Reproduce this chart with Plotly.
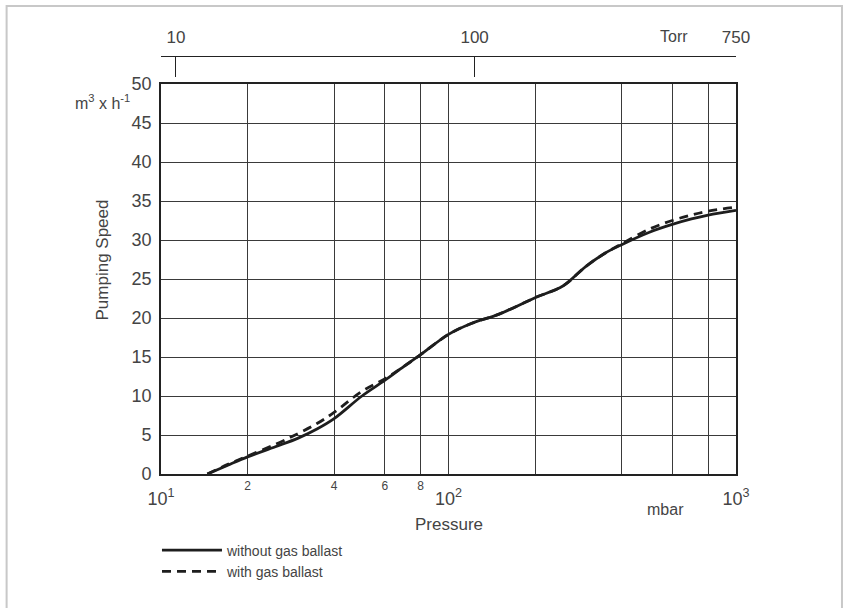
import plotly.graph_objects as go

# pressure in mbar, pumping speed in m3/h
pressure = [14.5, 17, 20, 25, 30, 35, 40, 50, 60, 70, 80, 100, 120, 150,
            200, 250, 300, 350, 400, 500, 600, 700, 800, 1000]
speed_without = [0, 1.1, 2.2, 3.5, 4.6, 5.8, 7.1, 10.0, 12.0, 13.8, 15.3, 17.9, 19.3, 20.5,
                 22.6, 24.1, 26.6, 28.3, 29.4, 31.0, 32.0, 32.7, 33.2, 33.8]
speed_with = [0, 1.2, 2.3, 3.8, 5.2, 6.5, 7.9, 10.6, 12.2, 13.8, 15.3, 17.9, 19.3, 20.5,
              22.6, 24.1, 26.6, 28.3, 29.5, 31.4, 32.5, 33.2, 33.7, 34.2]

grid_mbar = [20, 40, 60, 80, 100, 200, 400, 600, 800]
grid_text = ['2', '4', '6', '8', '', '', '', '', '']
decades = [10, 100, 1000]
decade_text = ['10<sup>1</sup>', '10<sup>2</sup>', '10<sup>3</sup>']
torr_ticks = [10, 100, 750]

txt = '#444444'
font = 'Liberation Sans'

fig = go.Figure()
fig.add_trace(go.Scatter(x=pressure, y=speed_without, mode='lines', name='without gas ballast',
                         line=dict(color='#1e1e1e', width=2.8, shape='spline')))
fig.add_trace(go.Scatter(x=pressure, y=speed_with, mode='lines', name='with gas ballast',
                         line=dict(color='#1e1e1e', width=2.8, dash='9px,6px', shape='spline')))

fig.update_layout(
    width=851, height=608,
    margin=dict(l=160.5, r=115, t=56, b=134),
    paper_bgcolor='white', plot_bgcolor='white',
    font=dict(family=font, color=txt, size=16),
    xaxis=dict(type='log', range=[1, 3], tickvals=grid_mbar, ticktext=grid_text,
               tickfont=dict(size=12), showgrid=True, gridcolor='#3a3a3a', gridwidth=1,
               showline=True, linecolor='#222222', linewidth=1.6, mirror=True,
               ticks='', zeroline=False),
    xaxis3=dict(type='log', range=[1, 3], overlaying='x', anchor='y', side='bottom',
                tickvals=decades, ticktext=decade_text, tickfont=dict(size=18),
                showgrid=False, ticks='', showline=False, ticklabelstandoff=12),
    xaxis2=dict(type='log', range=[0.95, 2.875], overlaying='x', anchor='free', position=1,
                side='top', tickvals=torr_ticks, ticktext=[str(t) for t in torr_ticks],
                tickfont=dict(size=17), ticks='inside', ticklen=20, tickcolor='#222222',
                tickwidth=1.2, showline=True, linecolor='#222222', linewidth=1.4,
                showgrid=False, ticklabelstandoff=6),
    yaxis=dict(range=[0, 50], dtick=5, domain=[0, 390 / 418], tickfont=dict(size=18),
               showgrid=True, gridcolor='#3a3a3a', gridwidth=1,
               showline=True, linecolor='#222222', linewidth=1.6, mirror=True,
               ticks='', zeroline=False, ticklabelstandoff=4),
    legend=dict(x=-0.007, xanchor='left', y=-0.145, yanchor='top', bgcolor='rgba(0,0,0,0)',
                font=dict(size=14, color=txt), itemwidth=60),
    showlegend=True,
)

# invisible traces so the extra axes get drawn
fig.add_trace(go.Scatter(x=[100], y=[None], xaxis='x2', showlegend=False, hoverinfo='skip'))
fig.add_trace(go.Scatter(x=[100], y=[None], xaxis='x3', showlegend=False, hoverinfo='skip'))

ann = [
    dict(text='Pumping Speed', x=-0.1017, y=0.512, textangle=-90, font=dict(size=17)),
    dict(text='m<sup>3</sup> x h<sup>-1</sup>', x=-0.1017, y=0.89, font=dict(size=16)),
    dict(text='Pressure', x=0.5, y=-0.122, font=dict(size=17)),
    dict(text='mbar', x=0.878, y=-0.084, font=dict(size=16)),
    dict(text='Torr', x=0.892, y=1.047, font=dict(size=16)),
]
for a in ann:
    fig.add_annotation(xref='paper', yref='paper', showarrow=False,
                       xanchor='center', yanchor='middle', **a)

# light frame around the whole figure
fig.add_shape(type='rect', xref='paper', yref='paper', x0=-0.2685, x1=1.1843,
              y0=-0.36, y1=1.1196, line=dict(color='#c8c8c8', width=2))

fig.write_html('out.html', config={'displayModeBar': False},
               post_script="document.body.style.margin='0px';")
